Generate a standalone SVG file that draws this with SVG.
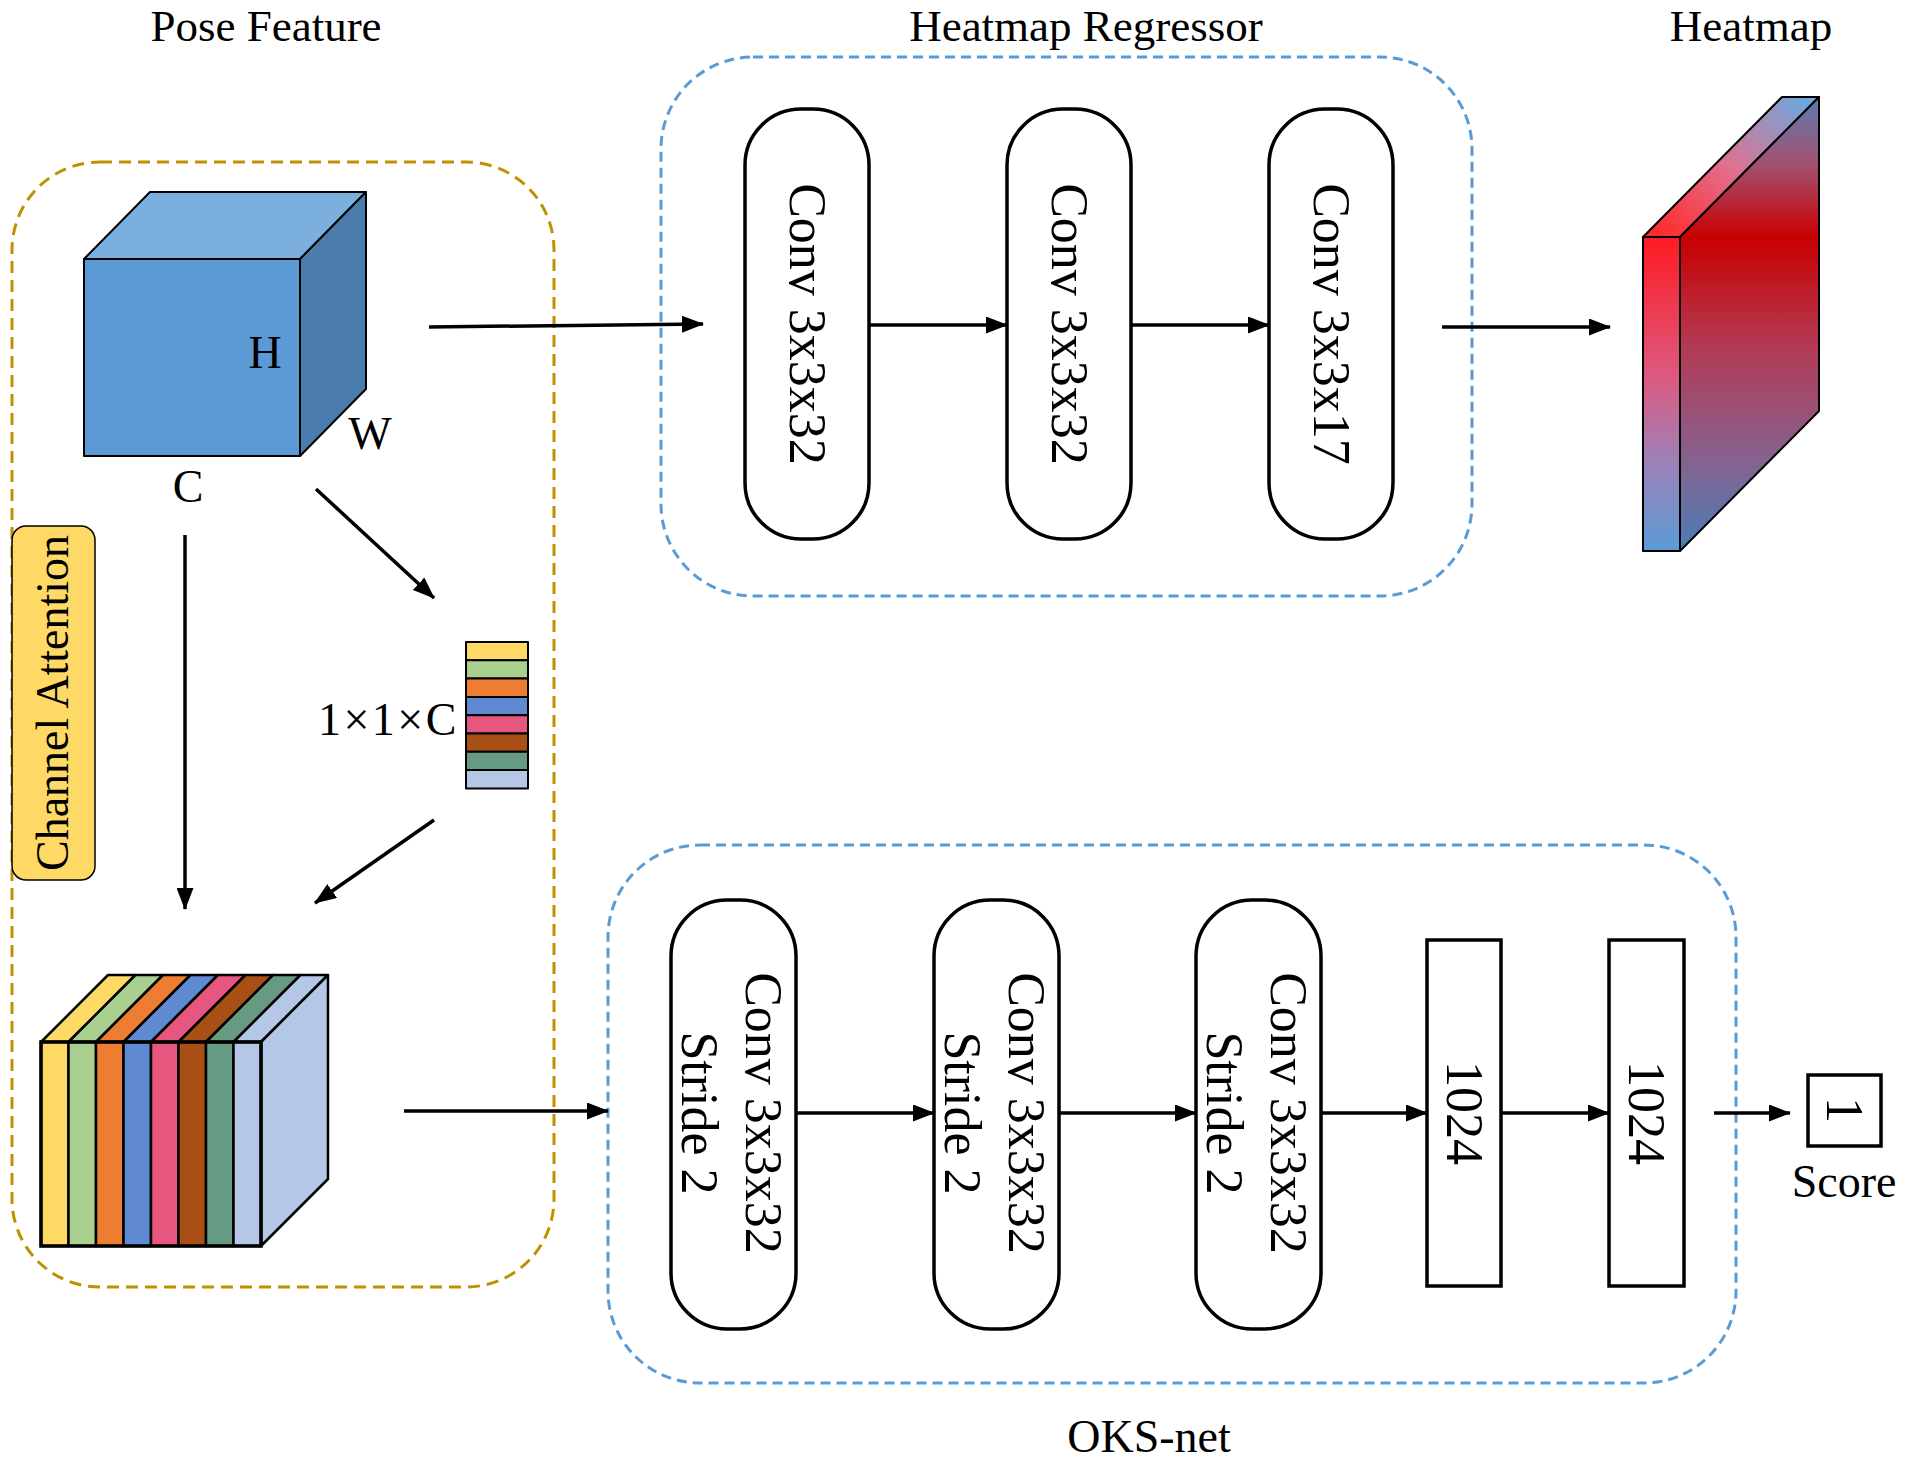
<svg xmlns="http://www.w3.org/2000/svg" width="1906" height="1460" viewBox="0 0 1906 1460">
<style>
.t{font-family:"Liberation Serif","Times New Roman",serif;font-size:46px;fill:#000}
.tt{font-family:"Liberation Serif","Times New Roman",serif;font-size:45px;fill:#000;text-anchor:middle}
.pt{font-family:"Liberation Serif","Times New Roman",serif;font-size:52px;fill:#000;text-anchor:middle}
.pill{fill:#fff;stroke:#000;stroke-width:3.5}
.fc{fill:#fff;stroke:#000;stroke-width:3.5}
.ln{stroke:#000;stroke-width:3.5;fill:none}
.gd{fill:none;stroke:#BF9000;stroke-width:3;stroke-dasharray:12 7}
.bd{fill:none;stroke:#5B9BD5;stroke-width:3;stroke-dasharray:10 6}
.e{stroke:#000;stroke-width:2;stroke-linejoin:round}
.s{stroke:#000;stroke-width:2.5;stroke-linejoin:round}
</style>
<defs>
<marker id="ah" markerWidth="22" markerHeight="17" refX="21" refY="8.5" orient="auto" markerUnits="userSpaceOnUse"><path d="M0,0 L22,8.5 L0,17 z" fill="#000"/></marker>
<linearGradient id="gFront" gradientUnits="userSpaceOnUse" x1="0" y1="237" x2="0" y2="551">
<stop offset="0" stop-color="#FF1A22"/><stop offset="0.45" stop-color="#DC5A80"/><stop offset="0.7" stop-color="#A07FB5"/><stop offset="1" stop-color="#5B9BD5"/></linearGradient>
<linearGradient id="gRight" gradientUnits="userSpaceOnUse" x1="0" y1="97" x2="0" y2="551">
<stop offset="0" stop-color="#5A7CB0"/><stop offset="0.15" stop-color="#A35070"/><stop offset="0.31" stop-color="#C80000"/><stop offset="0.55" stop-color="#B33A55"/><stop offset="0.8" stop-color="#86628F"/><stop offset="1" stop-color="#4A7DB5"/></linearGradient>
<linearGradient id="gTop" gradientUnits="userSpaceOnUse" x1="1660" y1="237" x2="1800" y2="97">
<stop offset="0" stop-color="#FF2A2A"/><stop offset="0.5" stop-color="#E07090"/><stop offset="1" stop-color="#6FA8DC"/></linearGradient>
</defs>

<!-- titles -->
<text class="tt" x="266" y="41">Pose Feature</text>
<text class="tt" x="1086" y="41">Heatmap Regressor</text>
<text class="tt" x="1751" y="41">Heatmap</text>
<text class="t" x="1149" y="1452" text-anchor="middle">OKS-net</text>

<!-- groups -->
<rect id="channel-attention-box" class="gd" x="12" y="162" width="542" height="1125" rx="88"/>
<rect id="heatmap-regressor-box" class="bd" x="661" y="57" width="811" height="539" rx="92"/>
<rect id="oks-net-box" class="bd" x="608" y="845" width="1128" height="538" rx="92"/>

<!-- pose feature cube -->
<g id="pose-feature">
<polygon class="e" points="84,259 150,192 366,192 300,259" fill="#7BAFDE"/>
<polygon class="e" points="300,259 366,192 366,389 300,456" fill="#4A7DAE"/>
<rect class="e" x="84" y="259" width="216" height="197" fill="#5B9AD5"/>
<text class="t" x="265" y="368" text-anchor="middle">H</text>
<text class="t" x="370" y="449" text-anchor="middle">W</text>
<text class="t" x="188" y="502" text-anchor="middle">C</text>
</g>

<!-- channel attention label -->
<g id="channel-attention-label">
<rect x="12" y="526" width="83" height="354" rx="14" fill="#FFD966" stroke="#000" stroke-width="1.5"/>
<text class="t" transform="translate(53,703) rotate(-90)" x="0" y="15" text-anchor="middle">Channel Attention</text>
</g>

<!-- channel vector -->
<g id="channel-vector">
<rect class="e" x="466" y="642" width="62" height="18.3" fill="#FFD966"/>
<rect class="e" x="466" y="660.3" width="62" height="18.3" fill="#A9D08E"/>
<rect class="e" x="466" y="678.6" width="62" height="18.3" fill="#ED7D31"/>
<rect class="e" x="466" y="696.9" width="62" height="18.3" fill="#5F89D0"/>
<rect class="e" x="466" y="715.2" width="62" height="18.3" fill="#E5577E"/>
<rect class="e" x="466" y="733.5" width="62" height="18.3" fill="#A84F16"/>
<rect class="e" x="466" y="751.8" width="62" height="18.3" fill="#679A82"/>
<rect class="e" x="466" y="770.1" width="62" height="18.3" fill="#B4C7E7"/>
<text class="t" x="459" y="735" text-anchor="end" font-size="48" letter-spacing="2.5">1×1×C</text>
</g>

<!-- striped feature cube -->
<g id="weighted-feature">
<polygon class="s" points="41,1042 108,975 135.5,975 68.5,1042" fill="#FFD966"/>
<polygon class="s" points="68.5,1042 135.5,975 163,975 96,1042" fill="#A9D08E"/>
<polygon class="s" points="96,1042 163,975 190.5,975 123.5,1042" fill="#ED7D31"/>
<polygon class="s" points="123.5,1042 190.5,975 218,975 151,1042" fill="#5F89D0"/>
<polygon class="s" points="151,1042 218,975 245.5,975 178.5,1042" fill="#E5577E"/>
<polygon class="s" points="178.5,1042 245.5,975 273,975 206,1042" fill="#A84F16"/>
<polygon class="s" points="206,1042 273,975 300.5,975 233.5,1042" fill="#679A82"/>
<polygon class="s" points="233.5,1042 300.5,975 328,975 261,1042" fill="#B4C7E7"/>
<polygon class="s" points="261,1042 328,975 328,1179 261,1246" fill="#B4C7E7"/>
<rect class="s" x="41" y="1042" width="27.5" height="204" fill="#FFD966"/>
<rect class="s" x="68.5" y="1042" width="27.5" height="204" fill="#A9D08E"/>
<rect class="s" x="96" y="1042" width="27.5" height="204" fill="#ED7D31"/>
<rect class="s" x="123.5" y="1042" width="27.5" height="204" fill="#5F89D0"/>
<rect class="s" x="151" y="1042" width="27.5" height="204" fill="#E5577E"/>
<rect class="s" x="178.5" y="1042" width="27.5" height="204" fill="#A84F16"/>
<rect class="s" x="206" y="1042" width="27.5" height="204" fill="#679A82"/>
<rect class="s" x="233.5" y="1042" width="27.5" height="204" fill="#B4C7E7"/>
<rect x="41" y="1042" width="220" height="204" fill="none" stroke="#000" stroke-width="3.5"/>
</g>

<!-- heatmap regressor convs -->
<g id="hr-conv1"><rect class="pill" x="745" y="109" width="124" height="430" rx="56"/>
<text class="pt" transform="translate(807,324) rotate(90)" x="0" y="17">Conv 3x3x32</text></g>
<g id="hr-conv2"><rect class="pill" x="1007" y="109" width="124" height="430" rx="56"/>
<text class="pt" transform="translate(1069,324) rotate(90)" x="0" y="17">Conv 3x3x32</text></g>
<g id="hr-conv3"><rect class="pill" x="1269" y="109" width="124" height="430" rx="56"/>
<text class="pt" transform="translate(1331,324) rotate(90)" x="0" y="17">Conv 3x3x17</text></g>

<!-- heatmap slab -->
<g id="heatmap">
<polygon class="e" points="1643,237 1782,97 1819,97 1680,237" fill="url(#gTop)"/>
<polygon class="e" points="1680,237 1819,97 1819,411 1680,551" fill="url(#gRight)"/>
<rect class="e" x="1643" y="237" width="37" height="314" fill="url(#gFront)"/>
</g>

<!-- OKS-net -->
<g id="oks-conv1"><rect class="pill" x="671" y="900" width="125" height="429" rx="56"/>
<g transform="translate(733,1113) rotate(90)"><text class="pt" x="0" y="-13">Conv 3x3x32</text><text class="pt" x="0" y="51">Stride 2</text></g></g>
<g id="oks-conv2"><rect class="pill" x="934" y="900" width="125" height="429" rx="56"/>
<g transform="translate(996,1113) rotate(90)"><text class="pt" x="0" y="-13">Conv 3x3x32</text><text class="pt" x="0" y="51">Stride 2</text></g></g>
<g id="oks-conv3"><rect class="pill" x="1196" y="900" width="125" height="429" rx="56"/>
<g transform="translate(1258,1113) rotate(90)"><text class="pt" x="0" y="-13">Conv 3x3x32</text><text class="pt" x="0" y="51">Stride 2</text></g></g>
<g id="fc1"><rect class="fc" x="1427" y="940" width="74" height="346"/>
<text class="pt" transform="translate(1464,1113) rotate(90)" x="0" y="17">1024</text></g>
<g id="fc2"><rect class="fc" x="1609" y="940" width="75" height="346"/>
<text class="pt" transform="translate(1646,1113) rotate(90)" x="0" y="17">1024</text></g>
<g id="score"><rect class="fc" x="1808" y="1075" width="73" height="71"/>
<text class="pt" transform="translate(1844,1110) rotate(90)" x="0" y="17">1</text>
<text class="t" x="1844" y="1197" text-anchor="middle">Score</text></g>

<!-- connectors -->
<g id="connectors">
<line class="ln" x1="429" y1="327" x2="703" y2="324" marker-end="url(#ah)"/>
<line class="ln" x1="869" y1="325" x2="1007" y2="325" marker-end="url(#ah)"/>
<line class="ln" x1="1131" y1="325" x2="1269" y2="325" marker-end="url(#ah)"/>
<line class="ln" x1="1442" y1="327" x2="1610" y2="327" marker-end="url(#ah)"/>
<line class="ln" x1="185" y1="535" x2="185" y2="909" marker-end="url(#ah)"/>
<line class="ln" x1="316" y1="489" x2="434" y2="598" marker-end="url(#ah)"/>
<line class="ln" x1="434" y1="820" x2="315" y2="903" marker-end="url(#ah)"/>
<line class="ln" x1="404" y1="1111" x2="608" y2="1111" marker-end="url(#ah)"/>
<line class="ln" x1="796" y1="1113" x2="934" y2="1113" marker-end="url(#ah)"/>
<line class="ln" x1="1059" y1="1113" x2="1196" y2="1113" marker-end="url(#ah)"/>
<line class="ln" x1="1321" y1="1113" x2="1427" y2="1113" marker-end="url(#ah)"/>
<line class="ln" x1="1501" y1="1113" x2="1609" y2="1113" marker-end="url(#ah)"/>
<line class="ln" x1="1714" y1="1113" x2="1790" y2="1113" marker-end="url(#ah)"/>
</g>
</svg>
